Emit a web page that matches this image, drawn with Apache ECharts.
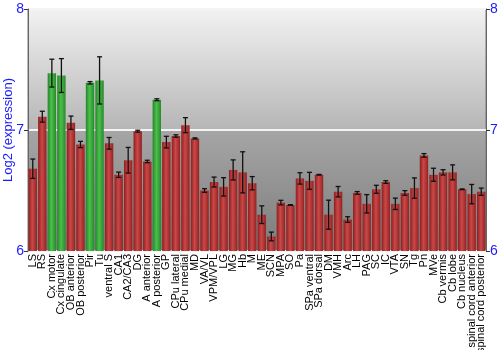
<!DOCTYPE html>
<html><head><meta charset="utf-8">
<script src="https://cdn.jsdelivr.net/npm/echarts@6/dist/echarts.min.js"></script>
<style>html,body{margin:0;padding:0;background:#fff}#c{width:500px;height:350px}</style>
</head><body><div id="c"></div>
<script>
const categories = ["LS","RS","Cx motor","Cx cingulate","OB anterior","OB posterior","Pir","Tu","ventral S","CA1","CA2/CA3","DG","A anterior","A posterior","GP","CPu lateral","CPu medial","MD","VA/VL","VPM/VPL","LG","MG","Hb","M","ME","SCN","MPA","SO","Pa","SPa ventral","SPa dorsal","DM","VMH","Arc","LH","PAG","SC","IC","VTA","SN","Tg","Pn","MVe","Cb vermis","Cb lobe","Cb nucleus","spinal cord anterior","spinal cord posterior"];
const values = [6.68,7.11,7.47,7.45,7.06,6.88,7.39,7.41,6.89,6.63,6.75,6.99,6.74,7.25,6.90,6.95,7.04,6.93,6.50,6.57,6.53,6.67,6.65,6.56,6.30,6.12,6.40,6.38,6.60,6.58,6.63,6.30,6.49,6.26,6.48,6.39,6.51,6.57,6.39,6.48,6.52,6.79,6.63,6.65,6.65,6.51,6.47,6.49];
const errors = [0.08,0.045,0.115,0.14,0.055,0.026,0.01,0.195,0.048,0.022,0.106,0.008,0.01,0.008,0.048,0.01,0.062,0.005,0.015,0.041,0.076,0.083,0.17,0.055,0.073,0.036,0.019,0.003,0.047,0.07,0.003,0.12,0.043,0.023,0.011,0.076,0.033,0.011,0.047,0.019,0.084,0.015,0.054,0.022,0.062,0.003,0.08,0.03];
const highlighted = ["Cx motor","Cx cingulate","Pir","Tu","A posterior"];
const yTicks = [6,7,8];

const redGrad = new echarts.graphic.LinearGradient(0,0,1,0,[{offset:0,color:'#8e1e1e'},{offset:0.45,color:'#cc4848'},{offset:1,color:'#922222'}]);
const greenGrad = new echarts.graphic.LinearGradient(0,0,1,0,[{offset:0,color:'#23862a'},{offset:0.45,color:'#4cbf4c'},{offset:1,color:'#268a2a'}]);
const bgGrad = new echarts.graphic.LinearGradient(0,0,0,1,[{offset:0,color:'#f2f2f2'},{offset:0.5,color:'#b6b6b6'},{offset:0.5,color:'#a6a6a6'},{offset:1,color:'#7c7c7c'}]);

const chart = echarts.init(document.getElementById('c'), null, {renderer:'canvas'});
const yBase = {type:'value', min:yTicks[0], max:yTicks[yTicks.length-1], interval:1,
  axisLine:{show:true,lineStyle:{color:'#666'}}, axisTick:{show:true,length:4,lineStyle:{color:'#333'}},
  axisLabel:{color:'#1a1aff',fontSize:14,fontFamily:'Liberation Sans, Arial',margin:4}};
chart.setOption({
  animation:false,
  grid:{left:28,right:14,top:9,bottom:99,containLabel:false,outerBoundsMode:'none',show:true,backgroundColor:bgGrad,borderColor:'#777',borderWidth:1},
  xAxis:{type:'category',data:categories,
    axisLine:{show:false},axisTick:{show:false},
    axisLabel:{rotate:90,interval:0,color:'#000',fontSize:11,fontFamily:'Liberation Sans, Arial',margin:3}},
  yAxis:[
    Object.assign({},yBase,{position:'left',name:'Log2 (expression)',nameLocation:'middle',nameGap:13,nameMoveOverlap:false,
      nameTextStyle:{color:'#1a1aff',fontSize:13,fontFamily:'Liberation Sans, Arial'},
      splitLine:{show:true,lineStyle:{color:'#f4f4f4',width:2}}}),
    Object.assign({},yBase,{position:'right',splitLine:{show:false}})
  ],
  series:[
    {type:'bar',data:values.map((v,i)=>({value:v,itemStyle:{color: highlighted.includes(categories[i])?greenGrad:redGrad}})),
      barCategoryGap:'12%'},
    {type:'custom',data:values.map((v,i)=>[i,v,errors[i]]),z:10,
      renderItem:function(params,api){
        const x=api.value(0), v=api.value(1), e=api.value(2);
        const hi=api.coord([x,v+e]), lo=api.coord([x,v-e]);
        const cw=2.5;
        const st={stroke:'#111',lineWidth:1.3};
        return {type:'group',children:[
          {type:'line',shape:{x1:hi[0],y1:hi[1],x2:lo[0],y2:lo[1]},style:st},
          {type:'line',shape:{x1:hi[0]-cw,y1:hi[1],x2:hi[0]+cw,y2:hi[1]},style:st},
          {type:'line',shape:{x1:lo[0]-cw,y1:lo[1],x2:lo[0]+cw,y2:lo[1]},style:st}
        ]};
      }}
  ]
});
</script></body></html>
